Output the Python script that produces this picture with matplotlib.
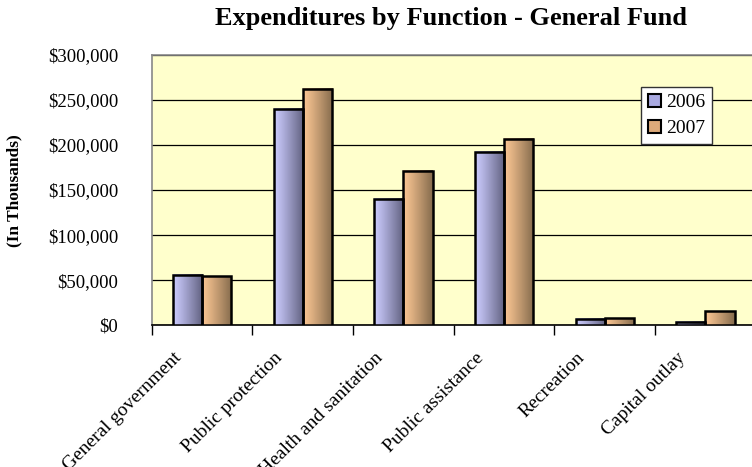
import numpy as np
import matplotlib
matplotlib.use("Agg")
import matplotlib.pyplot as plt
from matplotlib.patches import Patch
from matplotlib.transforms import ScaledTranslation

# ---- data ----
categories = ["General government", "Public protection", "Health and sanitation",
              "Public assistance", "Recreation", "Capital outlay"]
values_2006 = [56000, 239800, 140200, 192600, 7000, 4100]
values_2007 = [54200, 262000, 171200, 206300, 7700, 15500]
series_names = ["2006", "2007"]
ytick_values = [0, 50000, 100000, 150000, 200000, 250000, 300000]
ytick_labels = ["$0", "$50,000", "$100,000", "$150,000", "$200,000", "$250,000", "$300,000"]
title = "Expenditures by Function - General Fund"
ylabel = "(In Thousands)"

# ---- style ----
W, H = 752, 467
fig = plt.figure(figsize=(W / 100, H / 100), dpi=100)
fig.patch.set_facecolor("white")
serif = ["Liberation Serif", "DejaVu Serif"]

ax_left, ax_right, ax_top, ax_bottom = 151.7, 755.7, 54.7, 325.3
ax = fig.add_axes([ax_left / W, 1 - ax_bottom / H, (ax_right - ax_left) / W, (ax_bottom - ax_top) / H])
ax.set_facecolor("#FFFFCC")

grad_2006 = [(0.80, 0.80, 1.00), (0.38, 0.38, 0.50)]
grad_2007 = [(0.99, 0.78, 0.58), (0.52, 0.42, 0.30)]
legend_2006 = "#A9A9E0"
legend_2007 = "#DDAA7A"

x = np.arange(len(categories))
bw = 0.29


def gradient_image(c0, c1, n=64):
    t = np.linspace(0, 1, n) ** 1.1
    c0 = np.array(c0)
    c1 = np.array(c1)
    img = c0[None, :] * (1 - t[:, None]) + c1[None, :] * t[:, None]
    return img[None, :, :]


for offs, vals, grad in [(-bw / 2, values_2006, grad_2006), (bw / 2, values_2007, grad_2007)]:
    bars = ax.bar(x + offs, vals, width=bw, facecolor="none", edgecolor="black",
                  linewidth=1.8, zorder=4)
    img = gradient_image(*grad)
    for b in bars:
        x0 = b.get_x()
        ax.imshow(img, extent=(x0, x0 + b.get_width(), 0, b.get_height()),
                  aspect="auto", zorder=3, interpolation="bilinear")

ax.set_xlim(-0.5, len(categories) - 0.5)
ax.set_ylim(0, 300000)
ax.set_aspect("auto")

# grid
ax.set_yticks(ytick_values)
ax.set_yticklabels(ytick_labels, fontfamily=serif, fontsize=13.5)
ax.yaxis.grid(True, color="black", linewidth=0.9, zorder=1)
ax.set_axisbelow(True)
ax.tick_params(axis="y", length=0, pad=24)

# x ticks at category boundaries
ax.set_xticks(np.arange(len(categories) + 1) - 0.5)
ax.set_xticklabels([])
ax.tick_params(axis="x", direction="out", length=7, width=1, color="black")

off = ScaledTranslation(-29 / 100, -24 / 100, fig.dpi_scale_trans)
for i, lab in enumerate(categories):
    ax.text(x[i], 0, lab, transform=ax.get_xaxis_transform() + off,
            rotation=45, ha="right", va="top", rotation_mode="anchor",
            fontfamily=serif, fontsize=14)

for s in ["left", "top", "right"]:
    ax.spines[s].set_color("#888888")
    ax.spines[s].set_linewidth(1.2)
ax.spines["bottom"].set_color("black")
ax.spines["bottom"].set_linewidth(1.2)

# legend
handles = [Patch(facecolor=legend_2006, edgecolor="black", linewidth=1.5),
           Patch(facecolor=legend_2007, edgecolor="black", linewidth=1.5)]
leg = ax.legend(handles, series_names, loc="upper left",
                bbox_to_anchor=(640.7 / W, 1 - 86.7 / H), bbox_transform=fig.transFigure,
                prop={"family": serif, "size": 14}, frameon=True, fancybox=False,
                edgecolor="#333333", framealpha=1, borderaxespad=0,
                handlelength=0.7, handleheight=0.7, handletextpad=0.25,
                borderpad=0.35, labelspacing=0.45)
leg.get_frame().set_linewidth(1.0)
leg.set_zorder(10)

fig.text(451 / W, 1 - 19 / H, title, ha="center", va="center",
         fontfamily=serif, fontsize=19, fontweight="bold")
fig.text(14 / W, 1 - 191 / H, ylabel, ha="center", va="center", rotation=90,
         fontfamily=serif, fontsize=12.5, fontweight="bold")

fig.savefig("out.png", dpi=100, facecolor="white")
